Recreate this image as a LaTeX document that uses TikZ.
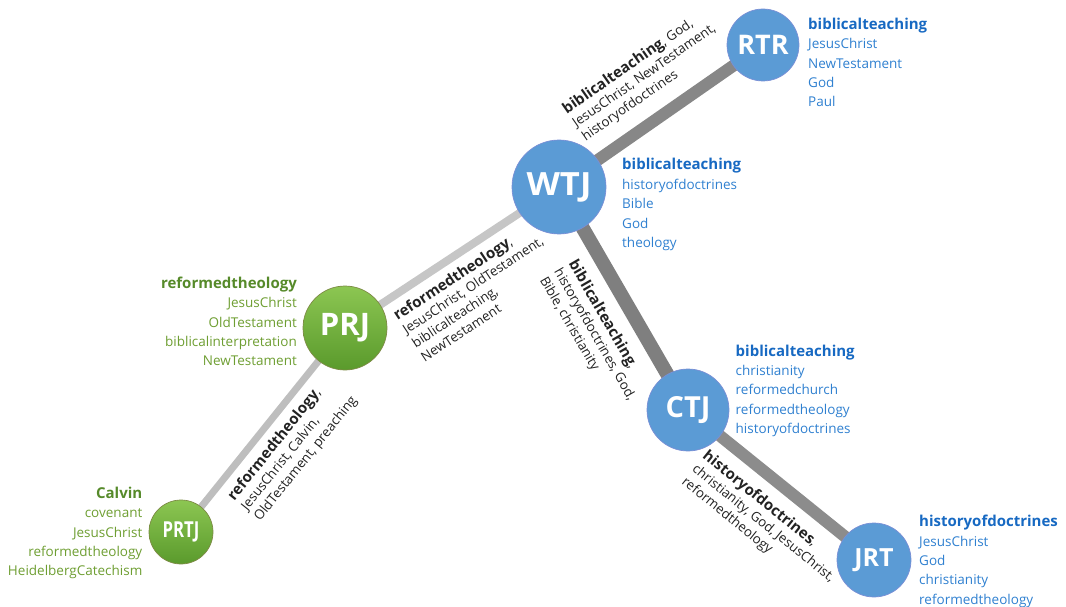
\documentclass[tikz,border=0pt]{standalone}
\usepackage{fontspec}
\setmainfont{Open Sans}
\usetikzlibrary{calc}
\definecolor{nodeblue}{HTML}{5B9BD5}
\definecolor{nodeblueedge}{HTML}{7A8FD6}
\definecolor{gtop}{HTML}{8CC652}
\definecolor{gbot}{HTML}{5A9A2C}
\definecolor{gedge}{HTML}{7D8A45}
\definecolor{bluetxt}{HTML}{2F80D0}
\definecolor{bluehead}{HTML}{1769C2}
\definecolor{greentxt}{HTML}{6E9E32}
\definecolor{greenhead}{HTML}{568A2A}
\definecolor{eA}{HTML}{878787}
\definecolor{eB}{HTML}{C6C6C6}
\definecolor{eC}{HTML}{7F7F7F}
\definecolor{eD}{HTML}{BEBEBE}
\definecolor{eE}{HTML}{8C8C8C}
\definecolor{elbltxt}{HTML}{222222}
\newcommand\hdr[2]{\textcolor{#1}{\fontsize{15}{19.4}\selectfont\bfseries #2}}
\newcommand\kwd[1]{{\fontsize{15}{16.5}\selectfont\bfseries #1}}
\pgfdeclarelayer{edges}
\pgfsetlayers{edges,main}
\begin{document}
\begin{tikzpicture}[x=1pt,y=-1pt,
  bnode/.style={circle, fill=nodeblue, draw=nodeblueedge, line width=0.7pt, inner sep=0pt, text=white},
  gnode/.style={circle, top color=gtop, bottom color=gbot, draw=gedge, line width=0.7pt, inner sep=0pt, text=white},
  listb/.style={inner sep=0pt, text=bluetxt, font=\fontsize{13.5}{19.4}\selectfont},
  listg/.style={inner sep=0pt, text=greentxt, font=\fontsize{13.5}{19.4}\selectfont},
  elbl/.style={inner sep=0pt, align=left, text=elbltxt, font=\fontsize{13.3}{16.5}\selectfont, sloped},
]
\useasboundingbox (0,0) rectangle (1066,607);

% nodes
\node[bnode, minimum size=94pt, font=\fontsize{32}{32}\selectfont\bfseries] (WTJ) at (559,187) {\scalebox{1.08}[1]{WTJ}};
\node[bnode, minimum size=72pt, font=\fontsize{27}{27}\selectfont\bfseries] (RTR) at (763,45) {RTR};
\node[gnode, minimum size=84pt, font=\fontsize{31}{31}\selectfont\bfseries] (PRJ) at (345,328) {PRJ};
\node[gnode, minimum size=64pt, font=\fontsize{22}{22}\selectfont\bfseries] (PRTJ) at (181,532) {\scalebox{0.76}[1]{PRTJ}};
\node[bnode, minimum size=82pt, font=\fontsize{29}{29}\selectfont\bfseries] (CTJ) at (688,410) {CTJ};
\node[bnode, minimum size=74pt, font=\fontsize{25}{25}\selectfont\bfseries] (JRT) at (874,560) {JRT};

% edges
\begin{pgfonlayer}{edges}
\draw[line width=12pt, eA] (WTJ.center) -- (RTR.center)
  node[elbl, pos=0.537, above=13pt] {\kwd{biblicalteaching}, God,\\ JesusChrist, NewTestament,\\ historyofdoctrines};
\draw[line width=8pt, eB] (PRJ.center) -- (WTJ.center)
  node[elbl, pos=0.509, below=7.5pt] {\kwd{reformedtheology},\\ JesusChrist, OldTestament,\\ biblicalteaching,\\ NewTestament};
\draw[line width=14pt, eC] (WTJ.center) -- (CTJ.center)
  node[elbl, pos=0.565, below=12pt] {\kwd{biblicalteaching},\\ historyofdoctrines, God,\\ Bible, christianity};
\draw[line width=7pt, eD] (PRTJ.center) -- (PRJ.center)
  node[elbl, pos=0.516, below=7.3pt] {\kwd{reformedtheology},\\ JesusChrist, Calvin,\\ OldTestament, preaching};
\draw[line width=12pt, eE] (CTJ.center) -- (JRT.center)
  node[elbl, pos=0.544, below=11pt] {\kwd{historyofdoctrines},\\ christianity, God, JesusChrist,\\ reformedtheology};
\end{pgfonlayer}

% keyword lists
\node[listb, anchor=base west] (RTRl) at (808,29.3) {\begin{tabular}[t]{@{}l@{}}\hdr{bluehead}{biblicalteaching}\\ JesusChrist\\ NewTestament\\ God\\ Paul\end{tabular}};
\node[listb, anchor=base west] (WTJl) at (622,170) {\begin{tabular}[t]{@{}l@{}}\hdr{bluehead}{biblicalteaching}\\ historyofdoctrines\\ Bible\\ God\\ theology\end{tabular}};
\node[listb, anchor=base west] (CTJl) at (735.5,356) {\begin{tabular}[t]{@{}l@{}}\hdr{bluehead}{biblicalteaching}\\ christianity\\ reformedchurch\\ reformedtheology\\ historyofdoctrines\end{tabular}};
\node[listb, anchor=base west] (JRTl) at (919,526.7) {\begin{tabular}[t]{@{}l@{}}\hdr{bluehead}{historyofdoctrines}\\ JesusChrist\\ God\\ christianity\\ reformedtheology\end{tabular}};
\node[listg, anchor=base east] (PRJl) at (297,288.3) {\begin{tabular}[t]{@{}r@{}}\hdr{greenhead}{reformedtheology}\\ JesusChrist\\ OldTestament\\ biblicalinterpretation\\ NewTestament\end{tabular}};
\node[listg, anchor=base east] (PRTJl) at (142.5,498.3) {\begin{tabular}[t]{@{}r@{}}\hdr{greenhead}{Calvin}\\ covenant\\ JesusChrist\\ reformedtheology\\ HeidelbergCatechism\end{tabular}};
\end{tikzpicture}
\end{document}
